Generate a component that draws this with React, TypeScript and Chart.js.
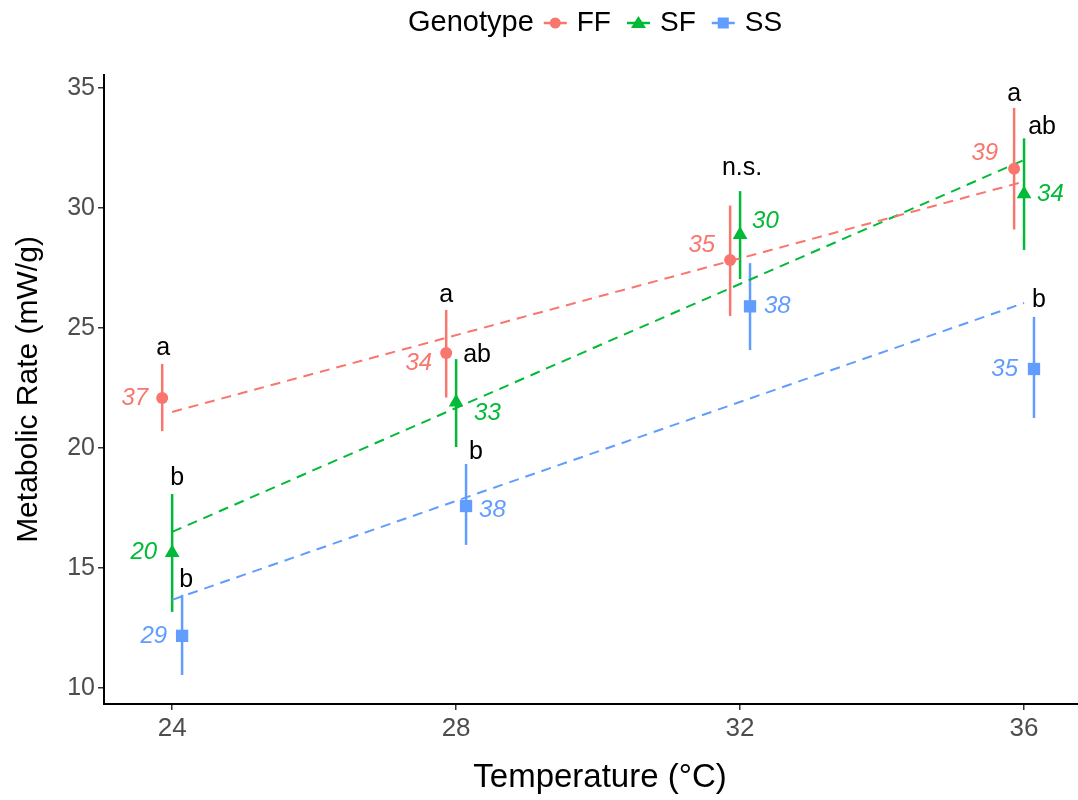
import React, { useEffect, useRef } from "react";
import { Chart, registerables } from "chart.js";

Chart.register(...registerables);

// ---------- data ----------
const temperatures = [24, 28, 32, 36];
const yTicks = [10, 15, 20, 25, 30, 35];
const genotypes = ["FF", "SF", "SS"];
const legendTitle = "Genotype";
const xTitle = "Temperature (°C)";
const yTitle = "Metabolic Rate (mW/g)";

const ffMean = [22.08, 23.96, 27.83, 31.63];
const ffLow = [20.7, 22.1, 25.5, 29.1];
const ffHigh = [23.5, 25.75, 30.1, 34.17];

const sfMean = [15.63, 21.9, 28.88, 30.58];
const sfLow = [13.17, 20.04, 27.04, 28.25];
const sfHigh = [18.08, 23.7, 30.7, 32.9];

const ssMean = [12.17, 17.58, 25.9, 23.29];
const ssLow = [10.54, 15.96, 24.08, 21.25];
const ssHigh = [13.88, 19.33, 27.7, 25.46];

// fitted regression values at 24 and 36 °C
const fitX = [24, 36];
const ffFit = [21.5, 31.1];
const sfFit = [16.5, 32.0];
const ssFit = [13.67, 26.04];

// sample sizes
const ffN = ["37", "34", "35", "39"];
const sfN = ["20", "33", "30", "34"];
const ssN = ["29", "38", "38", "35"];

// significance letters
const ffLetters = ["a", "a", "", "a"];
const sfLetters = ["b", "ab", "n.s.", "ab"];
const ssLetters = ["b", "b", "", "b"];

// ---------- style / layout ----------
const colors = ["#F8766D", "#00BA38", "#619CFF"];
const pointStyles = ["circle", "triangle", "rect"];
const pointRadii = [6, 8.5, 8.7];
const dodge = [-0.14, 0, 0.14];
const FONT = "'Liberation Sans', Arial, Helvetica, sans-serif";

// letter label nudges in px: [dx, dy relative to top of error bar]
const letterNudge = [
  [[1, -16], [0, -15], [0, 0], [0, -14]],
  [[5, -16], [21, -4], [2, -23], [18, -11]],
  [[4, -15], [10, -12], [0, 0], [5, -17]],
];
// sample-size label nudges in px: [dx from bar, dy from point]; dx<0 → label on the left
const nNudge = [
  [[-14, 0], [-14, 10], [-15, -15], [-16, -16]],
  [[-15, 0], [18, 11], [12, -14], [13, 0]],
  [[-15, 0], [13, 4], [14, 0], [-16, 0]],
];

const means = [ffMean, sfMean, ssMean];
const lows = [ffLow, sfLow, ssLow];
const highs = [ffHigh, sfHigh, ssHigh];
const fits = [ffFit, sfFit, ssFit];
const ns = [ffN, sfN, ssN];
const letters = [ffLetters, sfLetters, ssLetters];

function drawKeySymbol(ctx: CanvasRenderingContext2D, style: string, x: number, y: number, color: string) {
  ctx.fillStyle = color;
  ctx.beginPath();
  if (style === "circle") {
    ctx.arc(x, y, 5.5, 0, Math.PI * 2);
  } else if (style === "triangle") {
    ctx.moveTo(x, y - 7);
    ctx.lineTo(x + 7.5, y + 5);
    ctx.lineTo(x - 7.5, y + 5);
    ctx.closePath();
  } else {
    ctx.rect(x - 5.5, y - 5.5, 11, 11);
  }
  ctx.fill();
}

const annotationPlugin = {
  id: "annotations",
  beforeDatasetsDraw(chart: any) {
    const ctx = chart.ctx as CanvasRenderingContext2D;
    const xs = chart.scales.x;
    const ys = chart.scales.y;
    ctx.save();
    ctx.lineWidth = 2.5;
    genotypes.forEach((_, i) => {
      ctx.strokeStyle = colors[i];
      temperatures.forEach((t, j) => {
        const px = xs.getPixelForValue(t + dodge[i]);
        ctx.beginPath();
        ctx.moveTo(px, ys.getPixelForValue(lows[i][j]));
        ctx.lineTo(px, ys.getPixelForValue(highs[i][j]));
        ctx.stroke();
      });
    });
    ctx.restore();
  },
  afterDraw(chart: any) {
    const ctx = chart.ctx as CanvasRenderingContext2D;
    const xs = chart.scales.x;
    const ys = chart.scales.y;
    const area = chart.chartArea;
    ctx.save();

    // sample sizes
    ctx.font = `italic 24px ${FONT}`;
    ctx.textBaseline = "middle";
    genotypes.forEach((_, i) => {
      ctx.fillStyle = colors[i];
      temperatures.forEach((t, j) => {
        const px = xs.getPixelForValue(t + dodge[i]);
        const py = ys.getPixelForValue(means[i][j]);
        const [dx, dy] = nNudge[i][j];
        ctx.textAlign = dx < 0 ? "right" : "left";
        ctx.fillText(ns[i][j], px + dx, py + dy);
      });
    });

    // letters
    ctx.font = `25px ${FONT}`;
    ctx.fillStyle = "#000";
    ctx.textAlign = "center";
    genotypes.forEach((_, i) => {
      temperatures.forEach((t, j) => {
        const txt = letters[i][j];
        if (!txt) return;
        const px = xs.getPixelForValue(t + dodge[i]);
        const py = ys.getPixelForValue(highs[i][j]);
        const [dx, dy] = letterNudge[i][j];
        ctx.fillText(txt, px + dx, py + dy);
      });
    });

    // axis titles
    ctx.fillStyle = "#000";
    ctx.font = `33px ${FONT}`;
    ctx.textAlign = "center";
    ctx.textBaseline = "alphabetic";
    ctx.fillText(xTitle, 600, 787);
    ctx.save();
    ctx.font = `30px ${FONT}`;
    ctx.translate(37, (area.top + area.bottom) / 2);
    ctx.rotate(-Math.PI / 2);
    ctx.fillText(yTitle, 0, 0);
    ctx.restore();

    // legend
    ctx.textBaseline = "middle";
    ctx.textAlign = "left";
    const keyW = 23;
    const ly = 23;
    let x = 408;
    ctx.font = `29px ${FONT}`;
    ctx.fillStyle = "#000";
    ctx.fillText(legendTitle, x, ly);
    x += ctx.measureText(legendTitle).width + 10;
    ctx.font = `28px ${FONT}`;
    genotypes.forEach((g, i) => {
      ctx.strokeStyle = colors[i];
      ctx.lineWidth = 2.5;
      ctx.beginPath();
      ctx.moveTo(x, ly);
      ctx.lineTo(x + keyW, ly);
      ctx.stroke();
      drawKeySymbol(ctx, pointStyles[i], x + keyW / 2, ly, colors[i]);
      ctx.fillStyle = "#000";
      ctx.fillText(g, x + keyW + 10, ly);
      x += keyW + 10 + ctx.measureText(g).width + 16;
    });

    ctx.restore();
  },
};

export default function App() {
  const ref = useRef<HTMLCanvasElement>(null);

  useEffect(() => {
    if (!ref.current) return;
    const datasets: any[] = [];
    genotypes.forEach((g, i) => {
      datasets.push({
        label: g + " fit",
        data: fitX.map((t, k) => ({ x: t, y: fits[i][k] })),
        showLine: true,
        borderColor: colors[i],
        borderWidth: 2,
        borderDash: [10, 7],
        pointRadius: 0,
        fill: false,
        order: 2,
      });
    });
    genotypes.forEach((g, i) => {
      datasets.push({
        label: g,
        data: temperatures.map((t, j) => ({ x: t + dodge[i], y: means[i][j] })),
        pointStyle: pointStyles[i],
        pointRadius: pointRadii[i],
        backgroundColor: colors[i],
        borderColor: colors[i],
        borderWidth: 0,
        showLine: false,
        order: 1,
      });
    });

    const chart = new Chart(ref.current, {
      type: "scatter",
      data: { datasets },
      plugins: [annotationPlugin],
      options: {
        responsive: false,
        animation: false,
        devicePixelRatio: 1,
        layout: { autoPadding: false, padding: { top: 75, left: 0, right: 0, bottom: 0 } },
        plugins: {
          legend: { display: false },
          tooltip: { enabled: false },
        },
        scales: {
          x: {
            type: "linear",
            min: 23.04,
            max: 36.76,
            afterBuildTicks: (s: any) => {
              s.ticks = temperatures.map((v) => ({ value: v }));
            },
            afterFit: (s: any) => {
              s.height = 96;
              s.paddingLeft = 0;
              s.paddingRight = 0;
            },
            grid: {
              display: true,
              drawOnChartArea: false,
              drawTicks: true,
              tickLength: 6,
              color: "#333",
              lineWidth: 1.5,
            },
            border: { display: true, color: "#000", width: 2 },
            ticks: {
              color: "#4d4d4d",
              font: { family: FONT, size: 26 },
              padding: 3,
              maxRotation: 0,
              autoSkip: false,
            },
          },
          y: {
            type: "linear",
            min: 9.33,
            max: 35.54,
            afterBuildTicks: (s: any) => {
              s.ticks = yTicks.map((v) => ({ value: v }));
            },
            afterFit: (s: any) => {
              s.width = 104;
              s.paddingTop = 0;
              s.paddingBottom = 0;
            },
            grid: {
              display: true,
              drawOnChartArea: false,
              drawTicks: true,
              tickLength: 6,
              color: "#333",
              lineWidth: 1.5,
            },
            border: { display: true, color: "#000", width: 2 },
            ticks: {
              color: "#4d4d4d",
              font: { family: FONT, size: 25 },
              padding: 3,
              autoSkip: false,
            },
          },
        },
      } as any,
    });
    return () => chart.destroy();
  }, []);

  return (
    <div style={{ position: "absolute", left: 0, top: 0, width: 1078, height: 800, background: "#fff" }}>
      <canvas ref={ref} width={1078} height={800} style={{ width: 1078, height: 800, display: "block" }} />
    </div>
  );
}
